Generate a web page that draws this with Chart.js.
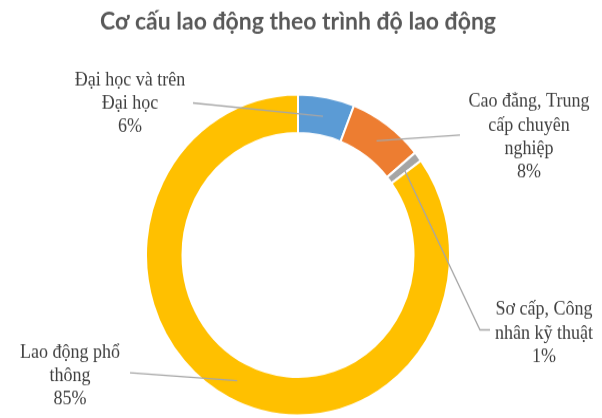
<!DOCTYPE html>
<html>
<head>
<meta charset="utf-8">
<script src="https://cdn.jsdelivr.net/npm/chart.js@4.4.1/dist/chart.umd.min.js"></script>
<style>
  html, body { margin: 0; padding: 0; background: #fff; width: 602px; height: 418px; overflow: hidden; }
  #wrap { width: 596px; height: 396px; transform: scaleY(1.0556); transform-origin: 0 0; }
  canvas { display: block; }
</style>
</head>
<body>
<div id="wrap"><canvas id="chart" width="596" height="396"></canvas></div>
<script>
// Labour structure by qualification level (percent)
const categories = [
  ['Đại học và trên', 'Đại học'],
  ['Cao đẳng, Trung', 'cấp chuyên', 'nghiệp'],
  ['Sơ cấp, Công', 'nhân kỹ thuật'],
  ['Lao động phổ', 'thông']
];
const values = [6, 8, 1, 85];
const colors = ['#5B9BD5', '#ED7D31', '#A5A5A5', '#FFC000'];
const titleText = 'Cơ cấu lao động theo trình độ lao động';

// Where each data label sits and how its leader line bends on the way to the ring
const labelLayout = [
  { x: 130, y: 75.8, path: [[193, 97.5]] },
  { x: 529, y: 96.6, path: [[460, 127.8]] },
  { x: 544, y: 293.6, path: [[480, 312.5], [490, 312.5]] },
  { x: 70,  y: 334.3, path: [[130, 353.2]] }
];
const lineH = 22.2;

const leaderLabels = {
  id: 'leaderLabels',
  afterDatasetsDraw(chart) {
    const ctx = chart.ctx;
    const meta = chart.getDatasetMeta(0);
    meta.data.forEach((arc, i) => {
      const p = arc.tooltipPosition();
      const lay = labelLayout[i];
      ctx.save();
      ctx.strokeStyle = '#a6a6a6';
      ctx.lineWidth = 1.3;
      ctx.beginPath();
      ctx.moveTo(p.x, p.y);
      lay.path.forEach(([x, y]) => ctx.lineTo(x, y));
      ctx.stroke();
      const lines = [...chart.data.labels[i], chart.data.datasets[0].data[i] + '%'];
      ctx.font = '18px "Liberation Serif", "Times New Roman", serif';
      ctx.fillStyle = '#404040';
      ctx.textAlign = 'center';
      ctx.textBaseline = 'middle';
      lines.forEach((t, k) => ctx.fillText(t, lay.x, lay.y + k * lineH));
      ctx.restore();
    });
  }
};

new Chart(document.getElementById('chart'), {
  type: 'doughnut',
  data: {
    labels: categories,
    datasets: [{
      data: values,
      backgroundColor: colors,
      borderColor: '#ffffff',
      borderWidth: 2
    }]
  },
  options: {
    responsive: false,
    devicePixelRatio: 1,
    animation: false,
    radius: 152,
    cutout: '76%',
    layout: { padding: { top: 0, left: 0, right: 0, bottom: 2.5 } },
    plugins: {
      legend: { display: false },
      tooltip: { enabled: false },
      title: {
        display: true,
        text: titleText,
        color: '#595959',
        font: { family: 'Lato', weight: 'bold', size: 23, lineHeight: 1.2 },
        padding: { top: 7, bottom: 54.9 }
      }
    }
  },
  plugins: [leaderLabels]
});
</script>
</body>
</html>
